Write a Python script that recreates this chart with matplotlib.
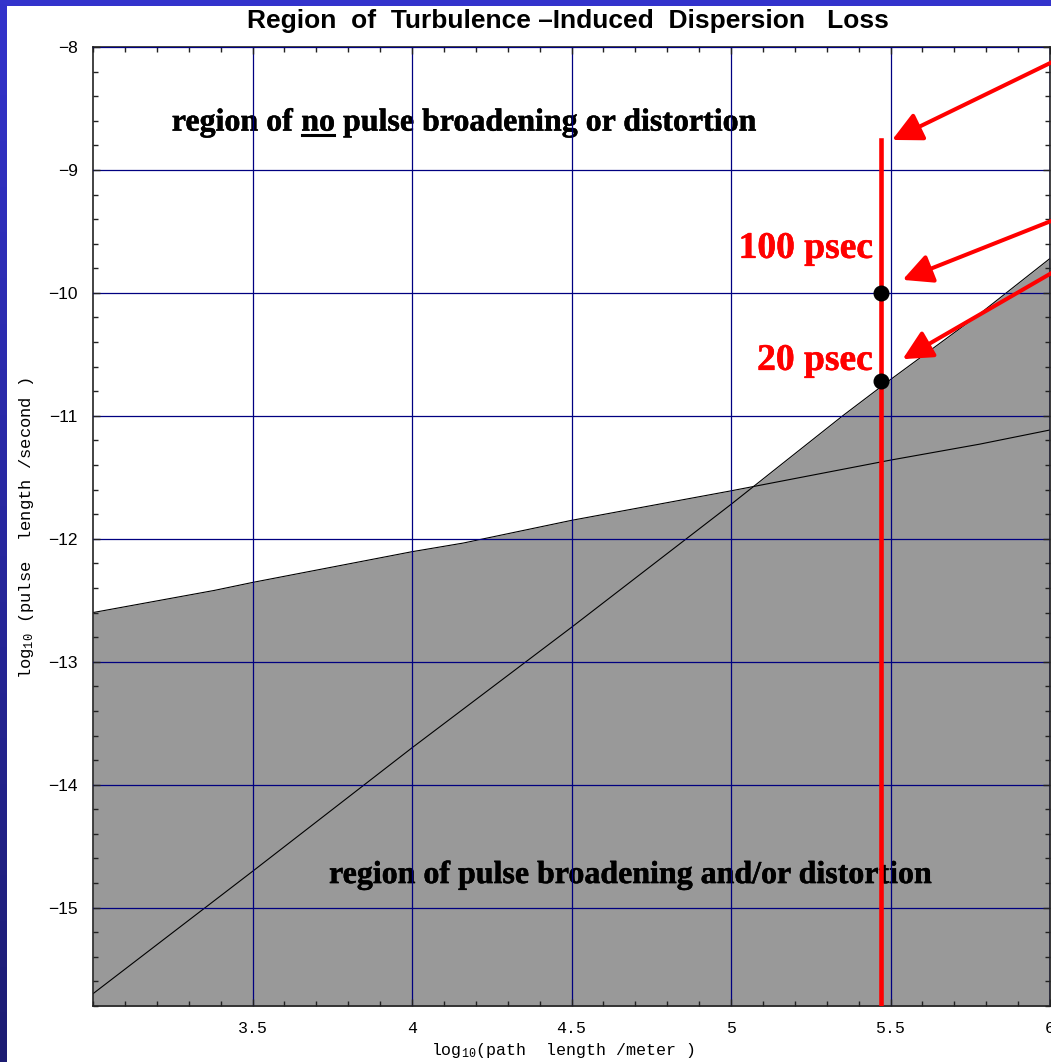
import numpy as np
import matplotlib
matplotlib.use("Agg")
import matplotlib.pyplot as plt
import matplotlib.patheffects as pe
from matplotlib.ticker import MultipleLocator
from matplotlib.lines import Line2D

plt.rcParams['mathtext.default'] = 'regular'

# values (log10 units)
shallow_x = [3.0, 3.38, 3.5, 4.0, 4.16, 4.5, 5.0, 5.5, 5.78, 6.0]
shallow_y = [-12.60, -12.42, -12.355, -12.105, -12.035, -11.85, -11.61, -11.36, -11.23, -11.115]
steep_x = [3.0, 3.5, 4.0, 4.5, 5.0, 5.35, 5.5, 5.77, 6.0]
steep_y = [-15.70, -14.705, -13.70, -12.72, -11.72, -11.0, -10.705, -10.19, -9.72]

marker_x = 5.47
marker_top = -8.756
dots_y = [-10.0, -10.72]          # 100 psec, 20 psec
dot_labels = ["100 psec", "20 psec"]
label_y = [-9.715, -10.626]

arrow_tips = [(5.505, -8.756), (5.538, -9.894), (5.538, -10.539)]
arrow_tails = [(6.061, -8.054), (6.061, -9.356), (6.061, -9.754)]

xticks = [3.5, 4, 4.5, 5, 5.5, 6]
xticklabels = ["3.5", "4", "4.5", "5", "5.5", "6"]
yticks = [-8, -9, -10, -11, -12, -13, -14, -15]
xlim = (3.0, 6.0)
ylim = (-15.8, -8.0)

W, H = 1051, 1062
fig = plt.figure(figsize=(W / 100, H / 100), dpi=100)

# blue slide border (top band + left gradient strip)
band = fig.add_axes([0, 1 - 6 / H, 1, 6 / H])
band.set_axis_off()
band.add_patch(plt.Rectangle((0, 0), 1, 1, transform=band.transAxes, color='#3333cc'))
strip = fig.add_axes([0, 0, 7 / W, 1])
grad = np.linspace(0, 1, 256).reshape(-1, 1)
cmap = matplotlib.colors.LinearSegmentedColormap.from_list('edge', ['#3333cc', '#1c1c72'])
strip.imshow(grad, aspect='auto', cmap=cmap, extent=(0, 1, 0, 1), origin='upper')
strip.set_axis_off()

ax = fig.add_axes([93 / W, 56 / H, (1050 - 93) / W, (1006 - 47) / H])
ax.set_xlim(*xlim)
ax.set_ylim(*ylim)

# shaded region = union of the areas under both curves
ax.fill_between(shallow_x, shallow_y, ylim[0], color='#999999', lw=0, zorder=1)
ax.fill_between(steep_x, steep_y, ylim[0], color='#999999', lw=0, zorder=1)
ax.plot(shallow_x, shallow_y, color='black', lw=0.8, zorder=1.5)
ax.plot(steep_x, steep_y, color='black', lw=0.8, zorder=1.5)

ax.set_axisbelow(False)
ax.grid(True, which='major', color='#000080', lw=0.9)

ax.plot([marker_x, marker_x], [marker_top, ylim[0]], color='#ff0000', lw=3.3, zorder=4)
ax.plot([marker_x] * len(dots_y), dots_y, 'o', color='black', ms=10.5, zorder=5)

serif = 'Liberation Serif'
for lab, ly in zip(dot_labels, label_y):
    ax.text(5.444, ly, lab, color='#ff0000', fontsize=27, fontweight='bold',
            family=serif, ha='right', va='baseline', zorder=6,
            path_effects=[pe.withStroke(linewidth=0.4, foreground='#ff0000')])

for tip, tail in zip(arrow_tips, arrow_tails):
    ax.annotate('', xy=tip, xytext=tail, xycoords='data', textcoords='data',
                annotation_clip=False,
                arrowprops=dict(arrowstyle='-|>,head_length=0.5,head_width=0.25',
                                mutation_scale=36, color='#ff0000', lw=2.9,
                                shrinkA=0, shrinkB=0), zorder=6)

# upper annotation with underlined "no"
kw = dict(fontsize=23, fontweight='bold', family=serif, color='black', zorder=2,
          path_effects=[pe.withStroke(linewidth=0.35, foreground='black')])
t1 = ax.text(3.247, -8.68, "region of ", ha='left', va='baseline', **kw)
t2 = ax.annotate("no", xy=(1, 0), xycoords=t1, ha='left', va='bottom', **kw)
t3 = ax.annotate(" pulse broadening or distortion", xy=(1, 0), xycoords=t2,
                 ha='left', va='bottom', **kw)
ax.text(3.74, -14.80, "region of pulse broadening and/or distortion",
        ha='left', va='baseline', **kw)

ax.set_xticks(xticks)
ax.set_xticklabels(xticklabels)
ax.set_yticks(yticks)
ax.xaxis.set_minor_locator(MultipleLocator(0.1))
ax.yaxis.set_minor_locator(MultipleLocator(0.2))
ax.tick_params(which='both', direction='in', top=True, right=True, color='#222222')
ax.tick_params(which='major', length=5, width=1)
ax.tick_params(which='minor', length=3.5, width=1)
ax.tick_params(axis='x', pad=11, labelsize=12)
ax.tick_params(axis='y', pad=11, labelsize=12.5)
for lab in ax.get_xticklabels():
    lab.set_family('Liberation Mono')
for lab in ax.get_yticklabels():
    lab.set_family('Liberation Sans')
for sp in ax.spines.values():
    sp.set_linewidth(1.2)
    sp.set_color('#222222')

fig.text(567.5 / W, 1 - 28 / H, "Region  of  Turbulence \u2013Induced  Dispersion   Loss",
         ha='center', va='baseline', fontsize=19, fontweight='bold', family='Liberation Sans')
fig.text(563 / W, 1 - 1050 / H, "log$_{10}$(path  length /meter )",
         ha='center', va='center', fontsize=12, family='Liberation Mono')
fig.text(27 / W, 1 - 528 / H, "log$_{10}$ (pulse  length /second )", rotation=90,
         ha='center', va='center', fontsize=12.3, family='Liberation Mono')

# underline under "no"
fig.canvas.draw()
bb = t2.get_window_extent(fig.canvas.get_renderer())
base = ax.transData.transform((0, -8.68))[1] - 4
inv = fig.transFigure.inverted()
(x0, y0), (x1, _) = inv.transform([(bb.x0 + 1, base), (bb.x1 - 1, base)])
fig.add_artist(Line2D([x0, x1], [y0, y0], color='black', lw=2.2, transform=fig.transFigure))

fig.savefig('out.png', dpi=100)
